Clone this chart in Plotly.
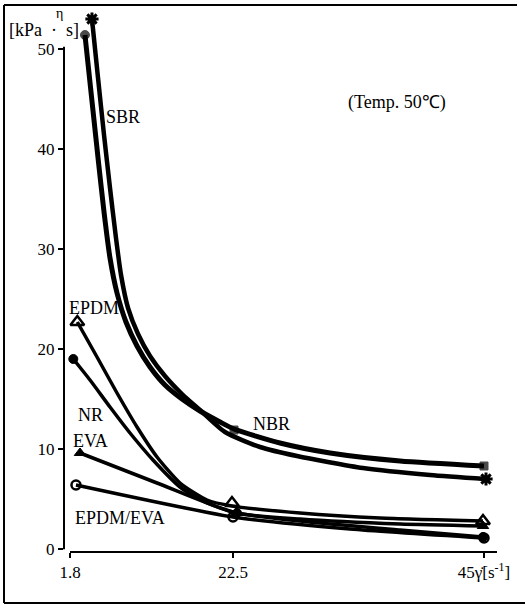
import numpy as np
import plotly.graph_objects as go

# ---------------- data ----------------
X_TICK_VALUES = [1.8, 22.5, 45]
X_TICK_TEXT = ["1.8", "22.5", "45γ̇[s<sup>-1</sup>]"]
Y_TICK_VALUES = [0, 10, 20, 30, 40, 50]

# smooth curves
nbr_curve_x = [3.70, 4.59, 5.36, 6.12, 6.88, 7.77, 8.91, 10.31, 11.96, 13.86, 16.02, 18.31, 20.85, 22.59, 26.71, 31.20, 37.47, 45.0]
nbr_curve_y = [51.43, 44.83, 39.13, 33.73, 29.13, 25.63, 22.73, 20.33, 18.23, 16.43, 15.03, 13.83, 12.73, 12.03, 10.63, 9.63, 8.83, 8.33]

sbr_curve_x = [4.59, 5.36, 6.12, 6.88, 7.64, 8.28, 9.17, 10.44, 11.96, 13.86, 16.02, 18.31, 21.48, 24.92, 28.24, 34.15, 40.16, 45.18]
sbr_curve_y = [53.03, 47.13, 41.43, 36.13, 31.13, 27.43, 24.13, 21.53, 19.33, 17.33, 15.53, 13.93, 11.73, 10.23, 9.33, 8.13, 7.43, 7.03]

epdm_curve_x = [2.73, 5.23, 7.77, 10.31, 12.85, 15.77, 19.20, 22.37, 28.51, 35.68, 44.91]
epdm_curve_y = [22.73, 19.23, 15.63, 12.23, 9.23, 6.63, 4.93, 4.33, 3.63, 3.13, 2.83]

nr_curve_x = [2.22, 4.34, 6.88, 9.42, 12.34, 15.77, 19.20, 22.86, 28.51, 37.47, 44.91]
nr_curve_y = [19.03, 16.93, 14.23, 11.63, 8.93, 6.23, 4.63, 3.63, 2.83, 1.93, 1.23]

eva_curve_x = [3.07, 12.85, 22.77, 28.51, 37.47, 44.91]
eva_curve_y = [9.63, 6.63, 3.63, 3.03, 2.53, 2.33]

epdmeva_curve_x = [2.56, 22.5, 32.99, 45.0]
epdmeva_curve_y = [6.43, 3.23, 2.03, 1.13]

# measured points (markers)
nbr_pts_x = [3.70, 22.59, 45.0]
nbr_pts_y = [51.43, 11.93, 8.33]
sbr_pts_x = [4.59, 45.18]
sbr_pts_y = [53.03, 7.03]
epdm_pts_x = [2.73, 22.37, 44.91]
epdm_pts_y = [22.73, 4.63, 2.83]
nr_pts_x = [2.22, 22.86, 44.91]
nr_pts_y = [19.03, 3.63, 1.23]
eva_pts_x = [3.07, 22.77, 44.91]
eva_pts_y = [9.63, 3.63, 2.33]
epdmeva_pts_x = [2.56, 22.5, 45.0]
epdmeva_pts_y = [6.43, 3.23, 1.13]

# ---------------- x scale (hand drawn, piecewise linear) ----------------
X_POS = [70, 233, 484]


def xpos(v):
    v = np.asarray(v, dtype=float)
    lo = X_POS[0] + (v - X_TICK_VALUES[0]) * (X_POS[1] - X_POS[0]) / (X_TICK_VALUES[1] - X_TICK_VALUES[0])
    hi = X_POS[1] + (v - X_TICK_VALUES[1]) * (X_POS[2] - X_POS[1]) / (X_TICK_VALUES[2] - X_TICK_VALUES[1])
    return np.where(v <= X_TICK_VALUES[1], lo, hi)


SERIF = "Liberation Serif, Times New Roman, serif"
BLACK = "#000000"

fig = go.Figure()


def add_curve(xs, ys, width):
    fig.add_trace(go.Scatter(x=xpos(xs), y=ys, mode="lines",
                             line=dict(color=BLACK, width=width, shape="spline", smoothing=0.6),
                             hoverinfo="skip", showlegend=False))


def add_points(xs, ys, symbol, size, lw=2.5):
    fig.add_trace(go.Scatter(x=xpos(xs), y=ys, mode="markers", cliponaxis=False,
                             marker=dict(symbol=symbol, size=size, color=BLACK,
                                         line=dict(color=BLACK, width=lw)),
                             showlegend=False))


add_curve(nbr_curve_x, nbr_curve_y, 5)
add_curve(sbr_curve_x, sbr_curve_y, 4.5)
add_curve(epdm_curve_x, epdm_curve_y, 3.5)
add_curve(nr_curve_x, nr_curve_y, 3.5)
add_curve(eva_curve_x, eva_curve_y, 3.5)
add_curve(epdmeva_curve_x, epdmeva_curve_y, 3.5)

add_points(nbr_pts_x, nbr_pts_y, ["circle", "square", "square"], [9, 8, 8], 1)
add_points(sbr_pts_x, sbr_pts_y, "asterisk-open", 11, 3)
add_points(epdm_pts_x, epdm_pts_y, "triangle-up-open", 12, 2.5)
add_points(nr_pts_x, nr_pts_y, "circle", 9, 1)
add_points(eva_pts_x, eva_pts_y, "triangle-up", 10, 1)
add_points(epdmeva_pts_x, epdmeva_pts_y, "circle-open", 9, 2.5)

Y0, Y1 = -0.27, 53.83

ann = [
    dict(text="SBR", x=123, y=43.23),
    dict(text="NBR", x=271, y=12.53),
    dict(text="EPDM", x=94, y=24.13),
    dict(text="NR", x=90, y=13.43),
    dict(text="EVA", x=90, y=10.83),
    dict(text="EPDM/EVA", x=120, y=3.18),
    dict(text="(Temp. 50℃)", x=397, y=44.73),
]
annotations = [dict(a, xref="x", yref="y", showarrow=False, xanchor="center", yanchor="middle",
                    font=dict(family=SERIF, size=18, color=BLACK)) for a in ann]
annotations.append(dict(text="[kPa\u2002·\u2002s]", xref="paper", x=(44 - 64) / 433,
                        yref="paper", y=(552 - 30) / 541,
                        showarrow=False, xanchor="center", yanchor="middle",
                        font=dict(family=SERIF, size=18, color=BLACK)))
annotations.append(dict(text="η", xref="paper", x=(59 - 64) / 433,
                        yref="paper", y=(552 - 13) / 541,
                        showarrow=False, xanchor="center", yanchor="middle",
                        font=dict(family=SERIF, size=14, color=BLACK)))

shapes = [
    # y axis line
    dict(type="line", xref="paper", x0=0, x1=0, yref="y", y0=0, y1=50.26,
         line=dict(color=BLACK, width=2)),
    # x axis line
    dict(type="line", xref="x", x0=70, x1=497, yref="paper", y0=0, y1=0,
         line=dict(color=BLACK, width=2)),
    # outer frame (left, top, bottom)
    dict(type="line", xref="paper", yref="paper", x0=(4 - 64) / 433, x1=(4 - 64) / 433,
         y0=(552 - 603) / 541, y1=(552 - 5) / 541, line=dict(color=BLACK, width=2)),
    dict(type="line", xref="paper", yref="paper", x0=(4 - 64) / 433, x1=(517 - 64) / 433,
         y0=(552 - 5) / 541, y1=(552 - 5) / 541, line=dict(color=BLACK, width=2)),
    dict(type="line", xref="paper", yref="paper", x0=(4 - 64) / 433, x1=(525 - 64) / 433,
         y0=(552 - 603) / 541, y1=(552 - 603) / 541, line=dict(color=BLACK, width=2)),
]

fig.update_layout(
    width=525, height=614,
    margin=dict(l=64, r=28, t=11, b=62),
    paper_bgcolor="white", plot_bgcolor="white",
    showlegend=False,
    annotations=annotations,
    shapes=shapes,
    xaxis=dict(range=[64, 497], tickmode="array", tickvals=list(xpos(X_TICK_VALUES)),
               ticktext=X_TICK_TEXT, showgrid=False, zeroline=False, showline=False,
               ticks="outside", ticklen=5, tickwidth=1.5, tickcolor=BLACK,
               tickfont=dict(family=SERIF, size=17, color=BLACK)),
    yaxis=dict(range=[Y0, Y1], tickmode="array", tickvals=Y_TICK_VALUES,
               showgrid=False, zeroline=False, showline=False,
               ticks="outside", ticklen=5, tickwidth=1.5, tickcolor=BLACK,
               tickfont=dict(family=SERIF, size=17, color=BLACK)),
)

fig.write_html("out.html", config={"displayModeBar": False},
               post_script="document.body.style.margin='0px';")
